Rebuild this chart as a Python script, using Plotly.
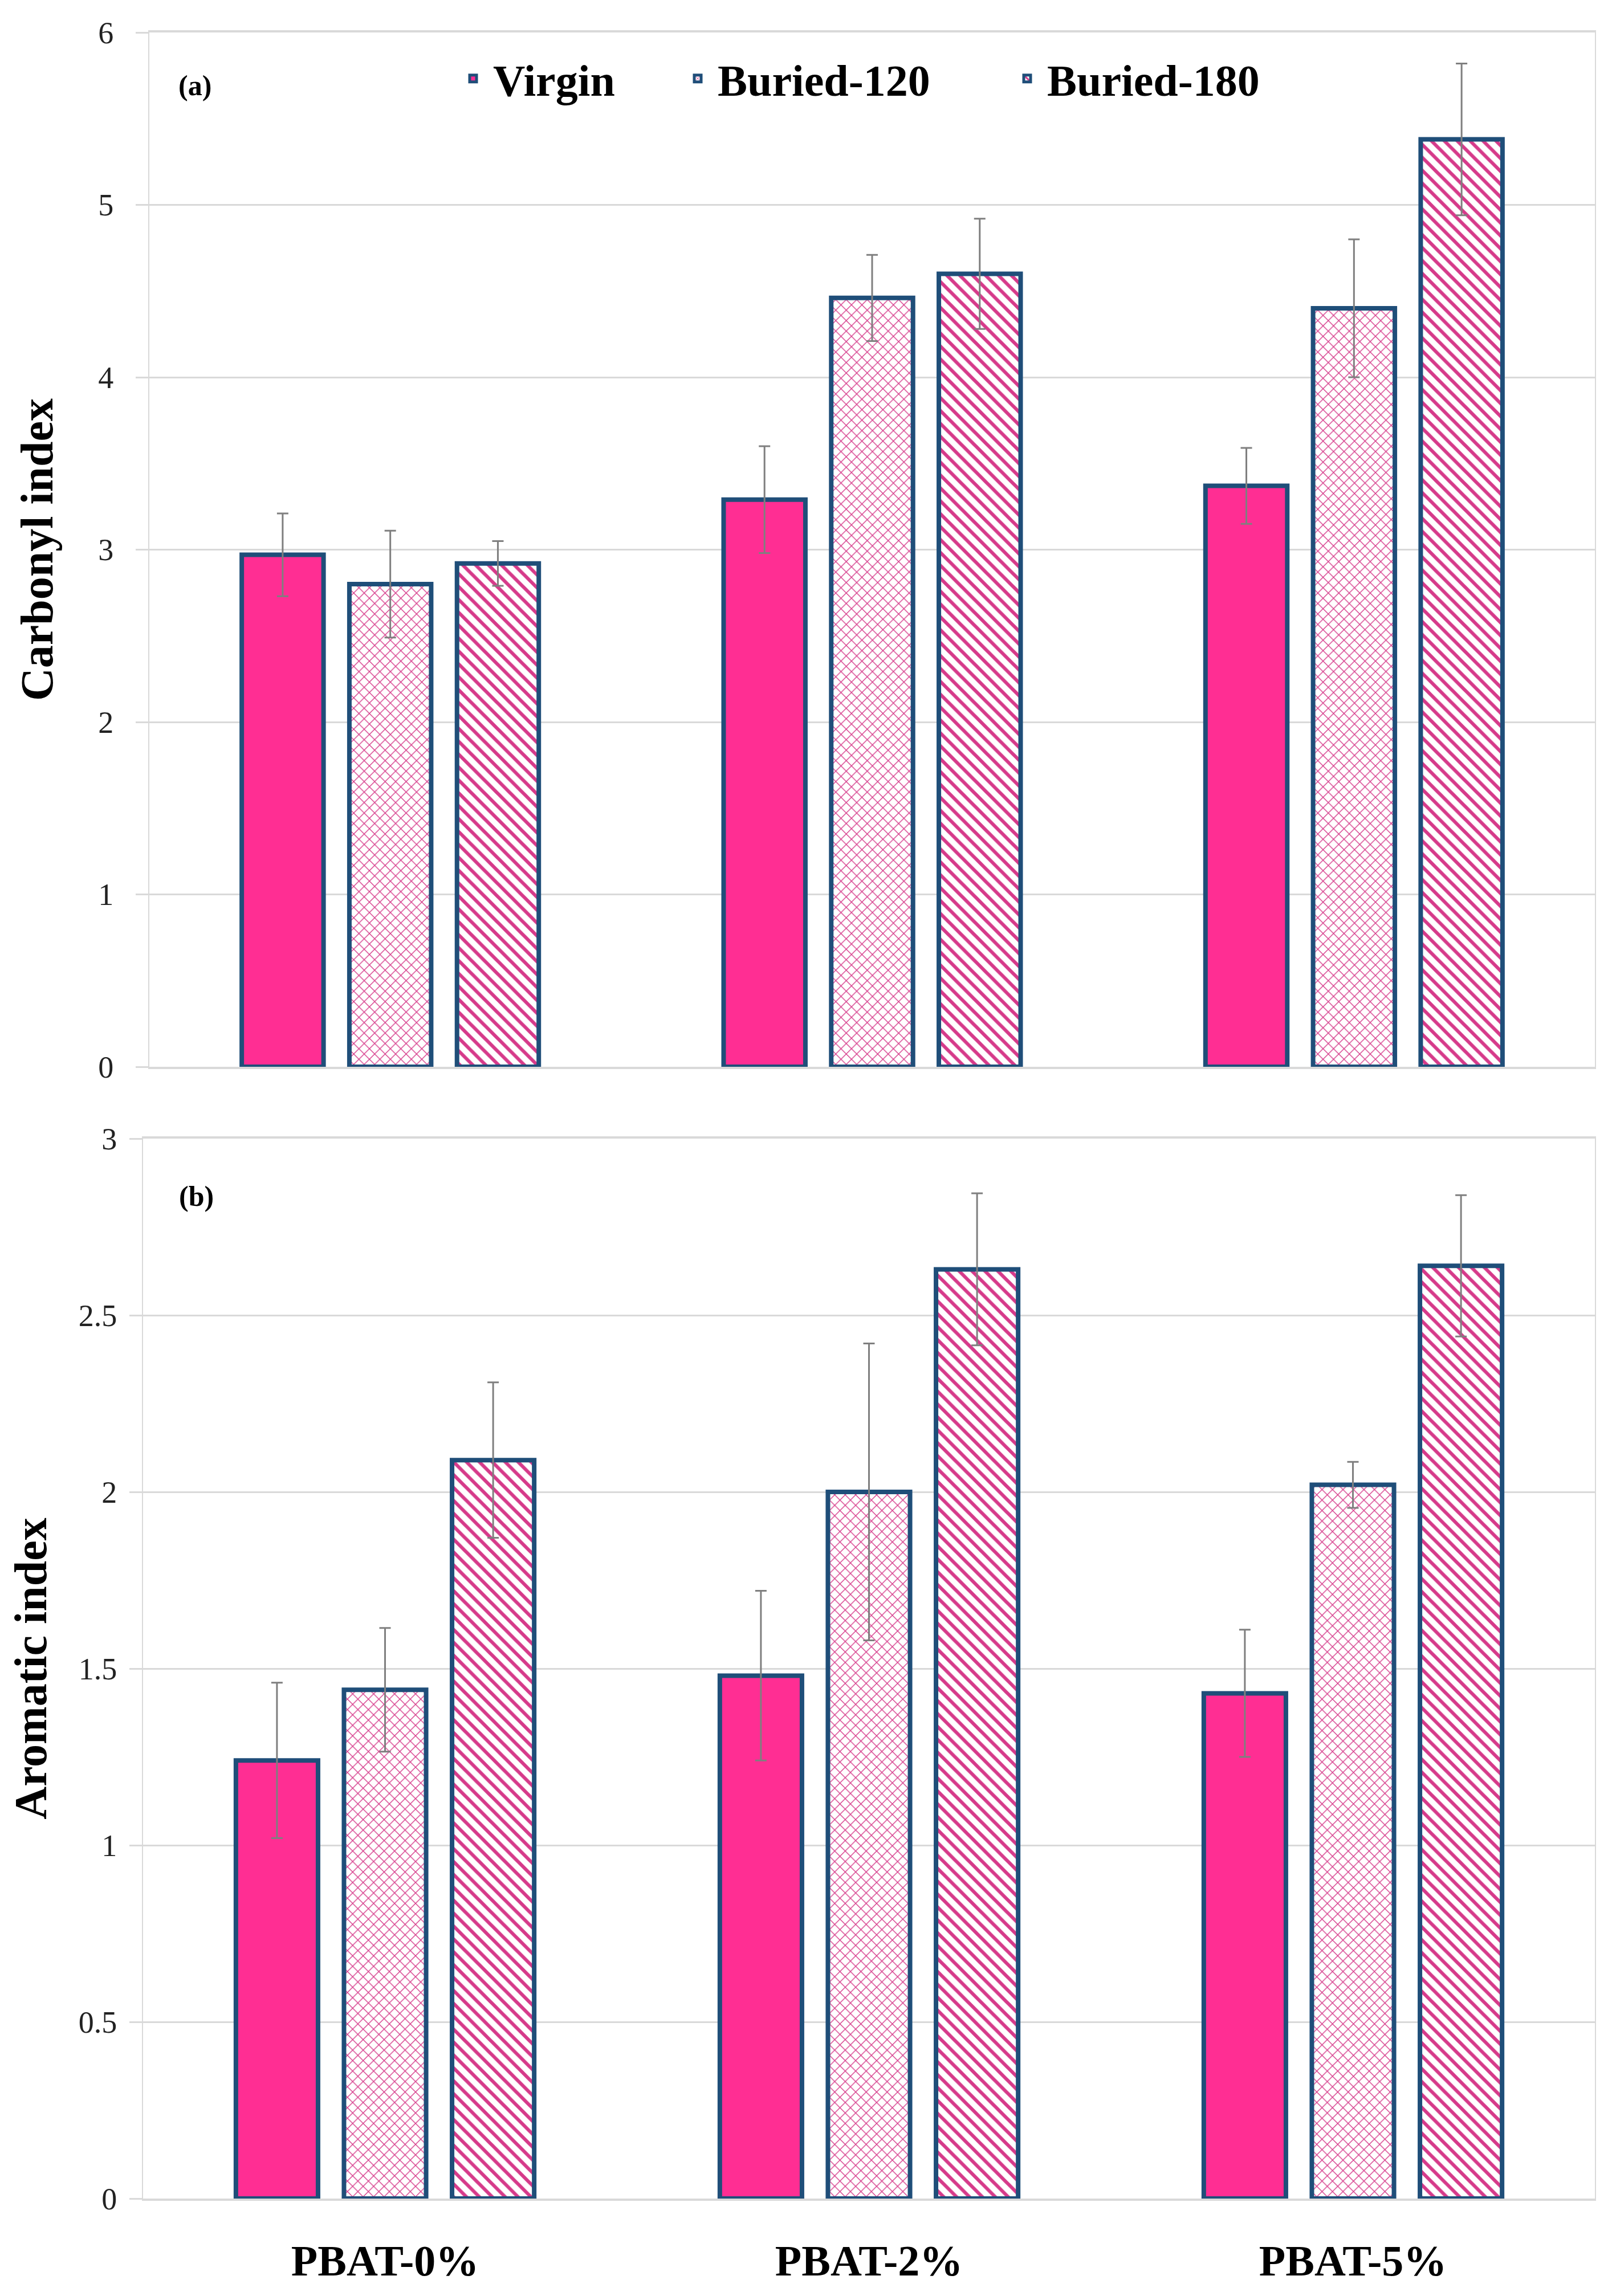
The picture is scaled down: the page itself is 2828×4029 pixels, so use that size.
import plotly.graph_objects as go

# ---------------- data ----------------
categories = ["PBAT-0%", "PBAT-2%", "PBAT-5%"]
series_names = ["Virgin", "Buried-120", "Buried-180"]

carbonyl_virgin = [2.97, 3.29, 3.37]
carbonyl_b120 = [2.80, 4.46, 4.40]
carbonyl_b180 = [2.92, 4.60, 5.38]
carbonyl_err_virgin = [0.24, 0.31, 0.22]
carbonyl_err_b120 = [0.31, 0.25, 0.40]
carbonyl_err_b180 = [0.13, 0.32, 0.44]

aromatic_virgin = [1.24, 1.48, 1.43]
aromatic_b120 = [1.44, 2.00, 2.02]
aromatic_b180 = [2.09, 2.63, 2.64]
aromatic_err_virgin = [0.22, 0.24, 0.18]
aromatic_err_b120 = [0.175, 0.42, 0.065]
aromatic_err_b180 = [0.22, 0.215, 0.20]

top_ticks = [0, 1, 2, 3, 4, 5, 6]
bottom_ticks = [0, 0.5, 1, 1.5, 2, 2.5, 3]
bottom_tick_text = ["0", "0.5", "1", "1.5", "2", "2.5", "3"]

# ---------------- style ----------------
PAGE_W, PAGE_H = 2828, 4029
BODY = 8                      # default page margin around the plot div
W, H = PAGE_W - BODY, PAGE_H - BODY


def px_x(p):
    return (p - BODY) / W


def px_y(p):
    return 1 - (p - BODY) / H


PINK = "#FF2E93"
STRIPE = "#D63A8A"
NAVY = "#1F4E79"
GRID = "#D9D9D9"
ERR = "#7F7F7F"
FONT = "Liberation Serif"

patterns = [
    dict(shape=""),
    dict(shape="x", fgcolor=STRIPE, bgcolor="white", size=13, solidity=0.2, fillmode="replace"),
    dict(shape="\\", fgcolor=STRIPE, bgcolor="white", size=16, solidity=0.38, fillmode="replace"),
]
fills = [PINK, "white", "white"]
legend_ids = ["legend", "legend2", "legend3"]
legend_x = [795, 1189, 1767]   # left position of each legend entry, page px

top_vals = [carbonyl_virgin, carbonyl_b120, carbonyl_b180]
top_errs = [carbonyl_err_virgin, carbonyl_err_b120, carbonyl_err_b180]
bot_vals = [aromatic_virgin, aromatic_b120, aromatic_b180]
bot_errs = [aromatic_err_virgin, aromatic_err_b120, aromatic_err_b180]

fig = go.Figure()

for i, name in enumerate(series_names):
    for vals, errs, xa, ya, show in [
        (top_vals[i], top_errs[i], "x", "y", True),
        (bot_vals[i], bot_errs[i], "x2", "y2", False),
    ]:
        fig.add_trace(go.Bar(
            x=categories, y=vals, name=name, xaxis=xa, yaxis=ya,
            showlegend=show, legendgroup=name, legend=legend_ids[i],
            marker=dict(color=fills[i], line=dict(color=NAVY, width=8),
                        pattern=patterns[i]),
            error_y=dict(type="data", array=errs, visible=True,
                         color=ERR, thickness=3, width=10),
        ))

common_y = dict(
    showgrid=True, gridcolor=GRID, gridwidth=3,
    showline=True, linecolor=GRID, linewidth=2, mirror=True,
    ticks="outside", ticklen=22, tickcolor=GRID, tickwidth=3,
    tickfont=dict(family=FONT, size=54, color="#222222"),
    zeroline=False,
)
common_x = dict(
    showgrid=False, showline=True, linecolor=GRID, linewidth=4, mirror=True,
    ticks="",
)
title_font = dict(family=FONT, size=80, color="black", weight="bold")
legend_font = dict(family=FONT, size=78, color="black", weight="bold")

layout_legends = {}
for i, lid in enumerate(legend_ids):
    layout_legends[lid] = dict(
        orientation="h", x=px_x(legend_x[i]), xanchor="left",
        y=px_y(138), yanchor="middle", font=legend_font,
        bgcolor="rgba(0,0,0,0)", itemwidth=60,
    )

fig.update_layout(
    width=W, height=H,
    margin=dict(l=0, r=0, t=0, b=0, autoexpand=False),
    paper_bgcolor="white", plot_bgcolor="white",
    barmode="group", bargap=0.33, bargroupgap=0.24,
    font=dict(family=FONT, color="black"),
    xaxis=dict(domain=[px_x(262), px_x(2798)], anchor="y", showticklabels=False, **common_x),
    xaxis2=dict(domain=[px_x(251), px_x(2798)], anchor="y2", showticklabels=True,
                tickfont=dict(family=FONT, size=76, color="black", weight="bold"),
                ticklabelstandoff=40, **common_x),
    yaxis=dict(domain=[px_y(1872), px_y(57)], anchor="x", range=[0, 6], tickvals=top_ticks,
               ticklabelstandoff=28,
               title=dict(text="Carbonyl index", standoff=53, font=title_font),
               **common_y),
    yaxis2=dict(domain=[px_y(3858), px_y(1998)], anchor="x2", range=[0, 3],
                tickvals=bottom_ticks, ticktext=bottom_tick_text, ticklabelstandoff=11,
                title=dict(text="Aromatic index", standoff=30, font=title_font),
                **common_y),
    annotations=[
        dict(text="(a)", xref="paper", yref="paper", x=px_x(342), y=px_y(150),
             xanchor="center", yanchor="middle", showarrow=False,
             font=dict(family=FONT, size=50, color="black", weight="bold")),
        dict(text="(b)", xref="paper", yref="paper", x=px_x(344), y=px_y(2099),
             xanchor="center", yanchor="middle", showarrow=False,
             font=dict(family=FONT, size=50, color="black", weight="bold")),
    ],
    **layout_legends,
)

fig.write_html("out.html")
